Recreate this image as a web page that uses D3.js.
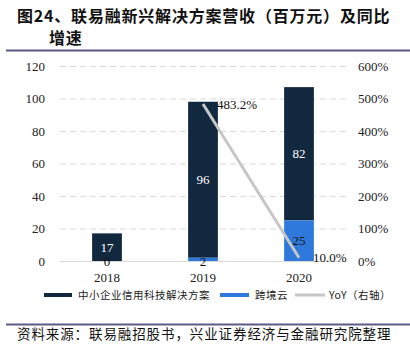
<!DOCTYPE html>
<html><head><meta charset="utf-8">
<script src="https://cdn.jsdelivr.net/npm/d3@7"></script>
<style>
html,body{margin:0;padding:0;background:#fff;}
svg{display:block;}
</style></head>
<body>
<svg id="c" width="410" height="357"></svg>
<script>
const years = ["2018", "2019", "2020"];
const smeValues = [17, 96, 82];
const cloudValues = [0, 2, 25];
const yoyValues = [null, 483.2, 10.0];
const leftTicks = [0, 20, 40, 60, 80, 100, 120];
const rightTicks = [0, 100, 200, 300, 400, 500, 600];
const titleLines = ["图24、联易融新兴解决方案营收（百万元）及同比", "增速"];
const legendLabels = ["中小企业信用科技解决方案", "跨境云", "YoY（右轴）"];
const sourceText = "资料来源：联易融招股书，兴业证券经济与金融研究院整理";

const svg = d3.select("#c");
const navy = "#12283f", blue = "#2f79dd", grey = "#c6c6c6", rule = "#5b5b86";
const serif = "'Liberation Serif', 'DejaVu Serif', serif";
const cjk = "'Noto Sans CJK SC', sans-serif";

// Title
svg.append("text").attr("x", 17).attr("y", 22).attr("font-family", cjk).attr("font-weight", "bold")
  .attr("font-size", 16).attr("letter-spacing", 0.8).attr("fill", "#111").text(titleLines[0]);
svg.append("text").attr("x", 49).attr("y", 44).attr("font-family", cjk).attr("font-weight", "bold")
  .attr("font-size", 16).attr("letter-spacing", 0.8).attr("fill", "#111").text(titleLines[1]);
svg.append("line").attr("x1", 6).attr("x2", 410).attr("y1", 50.5).attr("y2", 50.5)
  .attr("stroke", rule).attr("stroke-width", 2);

const x = d3.scaleBand().domain(years).range([59, 347]).paddingInner(0.69).paddingOuter(0.345);
const yL = d3.scaleLinear().domain([0, 120]).range([261, 66]);
const yR = d3.scaleLinear().domain([0, 600]).range([261, 66]);

// gridlines
svg.append("g").selectAll("line").data(leftTicks.filter(d => d > 0)).join("line")
  .attr("x1", 60).attr("x2", 347).attr("y1", d => yL(d) + 0.5).attr("y2", d => yL(d) + 0.5)
  .attr("stroke", "#d9d9d9").attr("stroke-dasharray", "6,4").attr("stroke-width", 1);

// left axis
const axL = d3.axisLeft(yL).tickValues(leftTicks).tickSize(0).tickPadding(0);
const gL = svg.append("g").attr("transform", "translate(45,0)").call(axL);
gL.select(".domain").remove();
gL.selectAll("text").attr("font-family", serif).attr("font-size", 13).attr("fill", "#222");

// right axis
const axR = d3.axisRight(yR).tickValues(rightTicks).tickSize(0).tickPadding(0).tickFormat(d => d + "%");
const gR = svg.append("g").attr("transform", "translate(358,0)").call(axR);
gR.select(".domain").remove();
gR.selectAll("text").attr("font-family", serif).attr("font-size", 13).attr("fill", "#222");

// bars
const bw = x.bandwidth();
svg.append("g").selectAll("rect").data(years).join("rect")
  .attr("x", d => x(d)).attr("width", bw)
  .attr("y", (d, i) => yL(cloudValues[i] + smeValues[i]))
  .attr("height", (d, i) => yL(cloudValues[i]) - yL(cloudValues[i] + smeValues[i]))
  .attr("fill", navy);
svg.append("g").selectAll("rect").data(years).join("rect")
  .attr("x", d => x(d)).attr("width", bw)
  .attr("y", (d, i) => yL(cloudValues[i]))
  .attr("height", (d, i) => yL(0) - yL(cloudValues[i]))
  .attr("fill", blue);

// baseline
svg.append("line").attr("x1", 60).attr("x2", 347).attr("y1", 261.5).attr("y2", 261.5)
  .attr("stroke", "#d9d9d9").attr("stroke-width", 1);

// x labels
const axB = d3.axisBottom(x).tickSize(0).tickPadding(0);
const gB = svg.append("g").attr("transform", "translate(0,272)").call(axB);
gB.select(".domain").remove();
gB.selectAll("text").attr("font-family", serif).attr("font-size", 13).attr("fill", "#222").attr("dy", "0.75em");

// YoY line
const lineData = years.map((d, i) => ({ y: d, v: yoyValues[i] })).filter(d => d.v !== null);
svg.append("path").datum(lineData)
  .attr("d", d3.line().x(d => x(d.y) + bw / 2).y(d => yR(d.v)))
  .attr("fill", "none").attr("stroke", grey).attr("stroke-width", 3);

// bar value labels
const lab = svg.append("g").attr("font-family", serif).attr("font-size", 13).attr("text-anchor", "middle");
years.forEach((d, i) => {
  const cx = x(d) + bw / 2;
  lab.append("text").attr("x", cx).attr("y", (yL(cloudValues[i]) + yL(cloudValues[i] + smeValues[i])) / 2)
    .attr("dy", "0.35em").attr("fill", "#fff").text(smeValues[i]);
  const cy = cloudValues[i] > 5 ? (yL(0) + yL(cloudValues[i])) / 2 : yL(0) + 0.5;
  lab.append("text").attr("x", cx).attr("y", cy).attr("dy", "0.35em").attr("fill", "#111").text(cloudValues[i]);
});

// YoY labels
lineData.forEach(d => {
  svg.append("text").attr("x", x(d.y) + bw / 2 + 14).attr("y", yR(d.v)).attr("dy", "0.35em")
    .attr("font-family", serif).attr("font-size", 13).attr("fill", "#111").text(d.v.toFixed(1) + "%");
});

// legend
const lg = svg.append("g").attr("font-family", cjk).attr("font-size", 10.5).attr("letter-spacing", 0.5).attr("fill", "#222");
const legItems = [
  { x: 44, w: 28, color: navy, h: 4, tx: 78 },
  { x: 220, w: 29, color: blue, h: 4, tx: 255 },
  { x: 295, w: 30, color: grey, h: 3, tx: 329 }
];
legItems.forEach((it, i) => {
  lg.append("rect").attr("x", it.x).attr("y", 295 - it.h / 2).attr("width", it.w).attr("height", it.h).attr("fill", it.color);
  lg.append("text").attr("x", it.tx).attr("y", 295).attr("dy", "0.35em").text(legendLabels[i]);
});

// source
svg.append("line").attr("x1", 6).attr("x2", 410).attr("y1", 324.5).attr("y2", 324.5)
  .attr("stroke", rule).attr("stroke-width", 2);
svg.append("text").attr("x", 17).attr("y", 339).attr("font-family", cjk).attr("font-size", 13.5)
  .attr("letter-spacing", 0.9).attr("fill", "#111").text(sourceText);
</script>
</body></html>
